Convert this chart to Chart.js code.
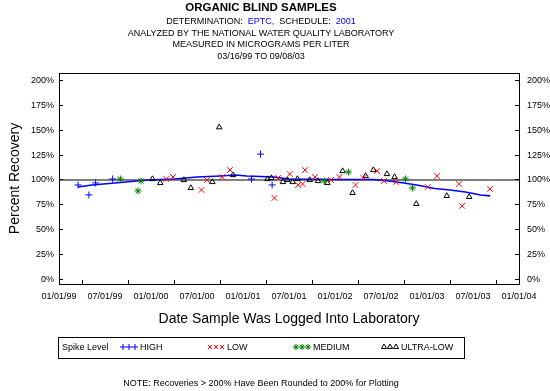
<!DOCTYPE html>
<html>
<head>
<meta charset="utf-8">
<script src="https://cdn.jsdelivr.net/npm/chart.js@4.4.1/dist/chart.umd.min.js"></script>
<style>
  html, body { margin: 0; padding: 0; background: #fff; }
</style>
</head>
<body>
<canvas id="myChart" width="550" height="391"></canvas>
<script>
// axis labels
const xTickLabels = ['01/01/99', '07/01/99', '01/01/00', '07/01/00', '01/01/01', '07/01/01',
  '01/01/02', '07/01/02', '01/01/03', '07/01/03', '01/01/04'];
const yTickValues = [0, 25, 50, 75, 100, 125, 150, 175, 200];

// spike level HIGH
const highDates = ['03/16/99', '04/28/99', '05/25/99', '08/01/99', '02/04/01', '03/10/01', '04/25/01'];
const highValues = [95, 85, 97, 101, 101, 126, 95];

// spike level LOW
const lowDates = ['03/01/00', '03/28/00', '07/19/00', '08/10/00', '10/10/00', '11/10/00', '05/04/01',
  '05/19/01', '07/04/01', '08/07/01', '08/25/01', '09/04/01', '10/13/01', '12/16/01', '01/19/02',
  '03/22/02', '04/22/02', '06/16/02', '07/13/02', '09/01/02', '01/04/03', '02/10/03', '05/07/03',
  '05/19/03', '09/08/03'];
const lowValues = [101, 103, 90, 100, 103, 110, 82, 102, 106, 95, 96, 110, 103, 100, 103,
  95, 102, 109, 99, 98, 93, 104, 96, 74, 91];

// spike level MEDIUM
const mediumDates = ['09/01/99', '11/10/99', '11/22/99', '11/19/01', '02/22/02', '10/07/02', '11/04/02'];
const mediumValues = [101, 89, 99, 99, 108, 101, 92];

// spike level ULTRA-LOW
const ultraLowDates = ['01/07/00', '02/07/00', '05/10/00', '06/07/00', '09/01/00', '09/28/00', '11/22/00',
  '04/07/01', '04/22/01', '06/07/01', '06/25/01', '07/16/01', '08/04/01', '09/22/01', '10/25/01',
  '12/01/01', '02/01/02', '03/10/02', '05/01/02', '06/01/02', '07/25/02', '08/25/02', '11/19/02',
  '03/19/03', '06/16/03'];
const ultraLowValues = [101, 97, 100, 92, 98, 153, 105, 101, 102, 98, 100, 98, 101, 100, 99,
  97, 109, 87, 104, 110, 106, 103, 76, 84, 83];

// smoothed recovery line
const trendDates = ['03/16/99', '05/10/99', '08/10/99', '11/04/99', '12/19/99', '04/04/00', '07/01/00',
  '10/01/00', '12/01/00', '01/16/01', '05/01/01', '07/01/01', '01/01/02', '06/01/02', '08/01/02',
  '10/01/02', '12/01/02', '02/01/03', '04/01/03', '06/01/03', '08/01/03', '09/08/03'];
const trendValues = [93, 95, 97, 99, 100, 101, 103, 104, 105, 104, 103, 101, 100.5, 100.5, 99,
  97, 94.5, 91.5, 90, 88, 85, 84];

const referenceLevel = 100;

const fontFamily = '"Liberation Sans", Arial, sans-serif';
Chart.defaults.font.family = fontFamily;
Chart.defaults.color = '#000';

// months since 01/01/99
function toMonths(d) {
  const p = d.split('/').map(Number);
  const year = p[2] < 50 ? 2000 + p[2] : 1900 + p[2];
  const dim = new Date(year, p[0], 0).getDate();
  return (year - 1999) * 12 + (p[0] - 1) + (p[1] - 1) / dim;
}
function points(dates, values) {
  return dates.map((d, i) => ({x: toMonths(d), y: values[i]}));
}

const xMax = (xTickLabels.length - 1) * 6;

function drawMark(ctx, style, radius, x, y) {
  if (Chart.helpers && Chart.helpers.drawPoint) {
    Chart.helpers.drawPoint(ctx, {pointStyle: style, radius: radius, borderWidth: 1, rotation: 0}, x, y);
  }
}

// title lines, legend, note and top frame line
const extras = {
  id: 'extras',
  afterDraw(chart) {
    const ctx = chart.ctx;
    const cx = 261;
    ctx.save();
    ctx.fillStyle = '#000';
    ctx.textAlign = 'center';
    ctx.textBaseline = 'middle';
    ctx.font = 'bold 11.5px ' + fontFamily;
    ctx.fillText('ORGANIC BLIND SAMPLES', cx, 8);

    ctx.font = '9px ' + fontFamily;
    const parts = [['DETERMINATION:  ', '#000'], ['EPTC,', '#0000ff'], ['  SCHEDULE:  ', '#000'], ['2001', '#0000ff']];
    let total = 0;
    parts.forEach(p => total += ctx.measureText(p[0]).width);
    let x = cx - total / 2;
    ctx.textAlign = 'left';
    parts.forEach(p => {
      ctx.fillStyle = p[1];
      ctx.fillText(p[0], x, 22);
      x += ctx.measureText(p[0]).width;
    });
    ctx.fillStyle = '#000';
    ctx.textAlign = 'center';
    ctx.fillText('ANALYZED BY THE NATIONAL WATER QUALITY LABORATORY', cx, 34);
    ctx.fillText('MEASURED IN MICROGRAMS PER LITER', cx, 45);
    ctx.fillText('03/16/99 TO 09/08/03', cx, 57);
    ctx.fillText('NOTE: Recoveries > 200% Have Been Rounded to 200% for Plotting', cx, 384);

    // top edge of plot frame
    const a = chart.chartArea;
    ctx.strokeStyle = '#000';
    ctx.lineWidth = 1;
    ctx.beginPath();
    ctx.moveTo(a.left, Math.round(a.top) + 0.5);
    ctx.lineTo(a.right, Math.round(a.top) + 0.5);
    ctx.stroke();

    // legend
    ctx.strokeRect(58.5, 337.5, 406, 21);
    ctx.textAlign = 'left';
    ctx.fillText('Spike Level', 62, 348);
    const starts = [120, 207, 293, 381];
    chart.data.datasets.filter(ds => ds.spike).forEach((ds, i) => {
      ctx.strokeStyle = ds.borderColor;
      ctx.fillStyle = 'rgba(0,0,0,0)';
      for (let k = 0; k < 3; k++) drawMark(ctx, ds.pointStyle, 3, starts[i] + 3 + k * 6, 347);
      ctx.fillStyle = '#000';
      ctx.fillText(ds.label, starts[i] + 20, 348);
    });
    ctx.restore();
  }
};

const yAxis = (pos) => ({
  type: 'linear',
  position: pos,
  min: -4.5,
  max: 207.5,
  afterBuildTicks: s => { s.ticks = yTickValues.map(v => ({value: v})); },
  ticks: {
    callback: v => v + '%',
    padding: pos === 'left' ? 9 : 12,
    font: {size: 9},
    color: '#000'
  },
  grid: {drawOnChartArea: false, tickLength: -4, color: '#000'},
  border: {color: '#000'},
  afterFit: s => { s.width = pos === 'left' ? 59 : 31; }
});

const config = {
  type: 'scatter',
  data: {
    datasets: [
      {label: 'HIGH', spike: true, data: points(highDates, highValues), pointStyle: 'cross',
        pointRadius: 3.5, borderColor: '#0000ff', backgroundColor: '#0000ff', pointBorderWidth: 1},
      {label: 'LOW', spike: true, data: points(lowDates, lowValues), pointStyle: 'crossRot',
        pointRadius: 4, borderColor: '#ff0000', backgroundColor: '#ff0000', pointBorderWidth: 1},
      {label: 'MEDIUM', spike: true, data: points(mediumDates, mediumValues), pointStyle: 'star',
        pointRadius: 3.5, borderColor: '#008000', backgroundColor: '#008000', pointBorderWidth: 1},
      {label: 'ULTRA-LOW', spike: true, data: points(ultraLowDates, ultraLowValues), pointStyle: 'triangle',
        pointRadius: 3.2, borderColor: '#000', backgroundColor: 'rgba(0,0,0,0)', pointBorderWidth: 1},
      {label: 'trend', data: points(trendDates, trendValues), showLine: true, pointRadius: 0,
        borderColor: '#0000ff', borderWidth: 1.6, tension: 0},
      {label: 'reference', data: [{x: 0, y: referenceLevel}, {x: xMax, y: referenceLevel}], showLine: true,
        pointRadius: 0, borderColor: '#000', borderWidth: 1}
    ]
  },
  options: {
    responsive: false,
    devicePixelRatio: 1,
    animation: false,
    layout: {padding: {top: 73, bottom: 63, left: 0, right: 0}},
    plugins: {legend: {display: false}, tooltip: {enabled: false}},
    scales: {
      x: {
        type: 'linear',
        min: 0,
        max: xMax,
        afterBuildTicks: s => { s.ticks = xTickLabels.map((t, i) => ({value: i * 6})); },
        ticks: {
          callback: (v, i) => xTickLabels[i],
          maxRotation: 0,
          autoSkip: false,
          padding: 11,
          font: {size: 9},
          color: '#000'
        },
        grid: {offset: true, drawOnChartArea: false, tickLength: -4, color: '#000'},
        border: {color: '#000'},
        title: {display: true, text: 'Date Sample Was Logged Into Laboratory', font: {size: 14},
          color: '#000', padding: {top: 0, bottom: 0}},
        afterFit: s => { s.height = 44; }
      },
      y: Object.assign(yAxis('left'), {
        title: {display: true, text: 'Percent Recovery', font: {size: 14}, color: '#000',
          padding: {top: 7, bottom: 0}}
      }),
      y2: yAxis('right')
    }
  },
  plugins: [extras]
};

const myChart = new Chart(document.getElementById('myChart'), config);
</script>
</body>
</html>
